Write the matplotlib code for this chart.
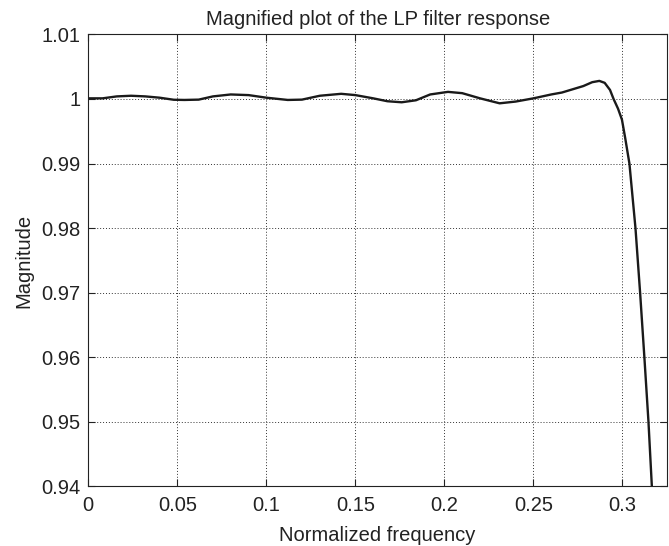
import matplotlib
matplotlib.use("Agg")
import matplotlib.pyplot as plt

# values
freq = [0.000, 0.008, 0.016, 0.024, 0.032, 0.040, 0.048, 0.054, 0.062, 0.070,
        0.080, 0.090, 0.100, 0.112, 0.120, 0.130, 0.142, 0.150, 0.160, 0.168,
        0.176, 0.184, 0.192, 0.202, 0.210, 0.220, 0.231, 0.240, 0.250, 0.260,
        0.266, 0.272, 0.278, 0.283, 0.287, 0.290, 0.293, 0.295, 0.2975, 0.2997,
        0.3015, 0.3039, 0.3073, 0.3099, 0.3123, 0.3146, 0.3165, 0.318]
mag = [1.0001, 1.0001, 1.0004, 1.0005, 1.0004, 1.0002, 0.99988, 0.99985, 0.9999, 1.0004,
       1.0007, 1.0006, 1.0002, 0.99985, 0.9999, 1.0005, 1.0008, 1.0006, 1.0001, 0.99965,
       0.99949, 0.9998, 1.0007, 1.0011, 1.0009, 1.0001, 0.99933, 0.9996, 1.0001, 1.0007,
       1.0010, 1.0015, 1.0020, 1.0026, 1.0028, 1.0025, 1.0014, 1.0000, 0.9985, 0.9968,
       0.9940, 0.9900, 0.9800, 0.9700, 0.9600, 0.9500, 0.9400, 0.932]

xticks = [0, 0.05, 0.1, 0.15, 0.2, 0.25, 0.3]
xlabels = ["0", "0.05", "0.1", "0.15", "0.2", "0.25", "0.3"]
yticks = [0.94, 0.95, 0.96, 0.97, 0.98, 0.99, 1.0, 1.01]
ylabels = ["0.94", "0.95", "0.96", "0.97", "0.98", "0.99", "1", "1.01"]

plt.rcParams['font.family'] = ['Liberation Sans', 'DejaVu Sans']
plt.rcParams['font.size'] = 14.5

fig = plt.figure(figsize=(6.69, 5.46), dpi=100)
ax = fig.add_axes([0.132, 0.109, 0.865, 0.828])

ax.plot(freq, mag, color='#1a1a1a', linewidth=1.7, solid_joinstyle='round')

ax.set_xlim(0, 0.325)
ax.set_ylim(0.94, 1.01)
ax.set_xticks(xticks)
ax.set_xticklabels(xlabels)
ax.set_yticks(yticks)
ax.set_yticklabels(ylabels)
ax.tick_params(direction='in', top=True, right=True, length=5, width=0.8, colors='#222222')
ax.tick_params(axis='x', pad=7)
ax.tick_params(axis='y', pad=5.5)
ax.grid(True, linestyle=(0, (1, 2)), color='#333333', linewidth=0.7)
for s in ax.spines.values():
    s.set_linewidth(0.8)
    s.set_color('#222222')

ax.set_title('Magnified plot of the LP filter response', fontsize=14.5, color='#222222', pad=7)
ax.set_xlabel('Normalized frequency', color='#222222', labelpad=8)
ax.set_ylabel('Magnitude', color='#222222', labelpad=6)

fig.savefig('out.png', dpi=100)
